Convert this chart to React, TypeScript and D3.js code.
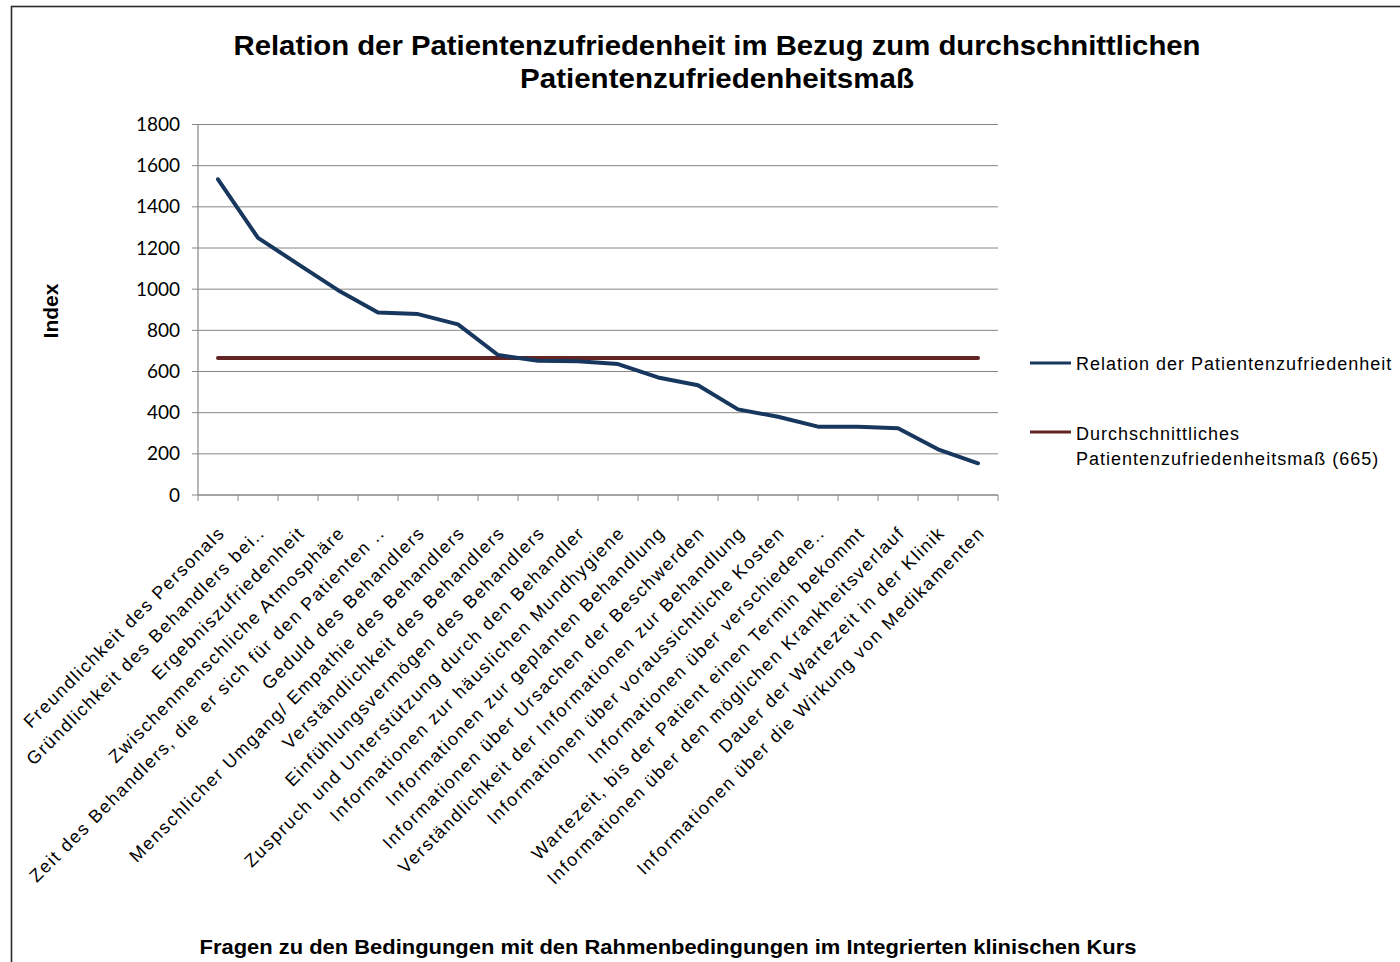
import React from "react";
import * as d3 from "d3";

const categories = [
  "Freundlichkeit des Personals",
  "Gründlichkeit des Behandlers  bei..",
  "Ergebniszufriedenheit",
  "Zwischenmenschliche Atmosphäre",
  "Zeit des Behandlers, die er sich für den Patienten ..",
  "Geduld des Behandlers",
  "Menschlicher Umgang/ Empathie des Behandlers",
  "Verständlichkeit des Behandlers",
  "Einfühlungsvermögen des Behandlers",
  "Zuspruch und Unterstützung  durch den Behandler",
  "Informationen zur häuslichen  Mundhygiene",
  "Informationen zur geplanten Behandlung",
  "Informationen über Ursachen der Beschwerden",
  "Verständlichkeit der Informationen zur Behandlung",
  "Informationen über voraussichtliche Kosten",
  "Informationen über verschiedene..",
  "Wartezeit,  bis der Patient  einen Termin  bekommt",
  "Informationen über den möglichen Krankheitsverlauf",
  "Dauer der Wartezeit  in der Klinik",
  "Informationen über die Wirkung  von Medikamenten",
];

const relationValues = [1534, 1249, 1122, 995, 887, 879, 829, 680, 652, 650, 636, 571, 533, 416, 380, 332, 332, 324, 222, 154];
const averageValue = 665;
const yTicks = [0, 200, 400, 600, 800, 1000, 1200, 1400, 1600, 1800];

const seriesNames = ["Relation der Patientenzufriedenheit", "Durchschnittliches", "Patientenzufriedenheitsmaß  (665)"];
const titleLines = ["Relation der Patientenzufriedenheit im Bezug zum durchschnittlichen", "Patientenzufriedenheitsmaß"];
const xTitle = "Fragen zu den Bedingungen mit den Rahmenbedingungen im Integrierten klinischen Kurs";
const yTitle = "Index";

const BLUE = "#17375e";
const RED = "#632523";
const GRID = "#868686";

export default function App() {
  const margin = { left: 198, right: 998, top: 124.5, bottom: 495 };

  const x = d3.scaleBand<string>().domain(categories).range([margin.left, margin.right]);
  const y = d3.scaleLinear().domain([0, 1800]).range([margin.bottom, margin.top]);
  const cx = (c: string) => (x(c) as number) + x.bandwidth() / 2;

  const line = d3
    .line<number>()
    .x((d, i) => cx(categories[i]))
    .y((d) => y(d));

  const avgData = categories.map(() => averageValue);
  const bounds = categories.map((c) => x(c) as number).concat([margin.right]);

  const sans = "'Liberation Sans', Arial, sans-serif";
  const titleWidths = [967, 394];

  return (
    <div style={{ position: "absolute", left: 0, top: 0 }}>
      <svg width={1400} height={962} style={{ display: "block", background: "#fff" }}>
        <rect x={11.5} y={6.5} width={1400} height={970} fill="#fff" stroke="#2b2b2b" strokeWidth={1.6} />

        {/* title */}
        {titleLines.map((t, i) => (
          <text
            key={t}
            x={717}
            y={55 + i * 33}
            textAnchor="middle"
            fontFamily={sans}
            fontWeight="bold"
            fontSize={28}
            textLength={titleWidths[i]}
            lengthAdjust="spacingAndGlyphs"
          >
            {t}
          </text>
        ))}

        {/* grid */}
        {yTicks.map((t) => (
          <g key={t}>
            <line x1={margin.left - 6} x2={margin.right} y1={y(t)} y2={y(t)} stroke={GRID} strokeWidth={1} />
            <text x={180} y={y(t) + 6.5} textAnchor="end" fontFamily="Lato, 'Open Sans', sans-serif" fontSize={19}>
              {t}
            </text>
          </g>
        ))}
        <line x1={margin.left} x2={margin.left} y1={margin.top} y2={margin.bottom} stroke={GRID} strokeWidth={1.2} />
        <line x1={margin.left} x2={margin.right} y1={margin.bottom} y2={margin.bottom} stroke={GRID} strokeWidth={1.2} />
        {bounds.map((b, i) => (
          <line key={i} x1={b} x2={b} y1={margin.bottom} y2={margin.bottom + 6} stroke={GRID} strokeWidth={1} />
        ))}

        {/* series */}
        <path d={line(avgData) as string} fill="none" stroke={RED} strokeWidth={4} strokeLinecap="round" />
        <path d={line(relationValues) as string} fill="none" stroke={BLUE} strokeWidth={4} strokeLinecap="round" strokeLinejoin="round" />

        {/* category labels */}
        {categories.map((c) => (
          <text
            key={c}
            transform={`translate(${cx(c) + 8},${534}) rotate(-45)`}
            textAnchor="end"
            fontFamily={sans}
            fontSize={18}
            letterSpacing={1.6}
          >
            {c}
          </text>
        ))}

        {/* axis titles */}
        <text
          x={668}
          y={954}
          textAnchor="middle"
          fontFamily={sans}
          fontWeight="bold"
          fontSize={21}
          textLength={937}
          lengthAdjust="spacingAndGlyphs"
        >
          {xTitle}
        </text>
        <text transform="translate(58,311) rotate(-90)" textAnchor="middle" fontFamily={sans} fontWeight="bold" fontSize={21}>
          {yTitle}
        </text>

        {/* legend */}
        <line x1={1030} x2={1071} y1={363} y2={363} stroke={BLUE} strokeWidth={3} />
        <text x={1076} y={370} fontFamily={sans} fontSize={18} letterSpacing={1}>
          {seriesNames[0]}
        </text>
        <line x1={1030} x2={1071} y1={432} y2={432} stroke={RED} strokeWidth={3} />
        <text x={1076} y={440} fontFamily={sans} fontSize={18} letterSpacing={1}>
          {seriesNames[1]}
        </text>
        <text x={1076} y={465} fontFamily={sans} fontSize={18} letterSpacing={1}>
          {seriesNames[2]}
        </text>
      </svg>
    </div>
  );
}
